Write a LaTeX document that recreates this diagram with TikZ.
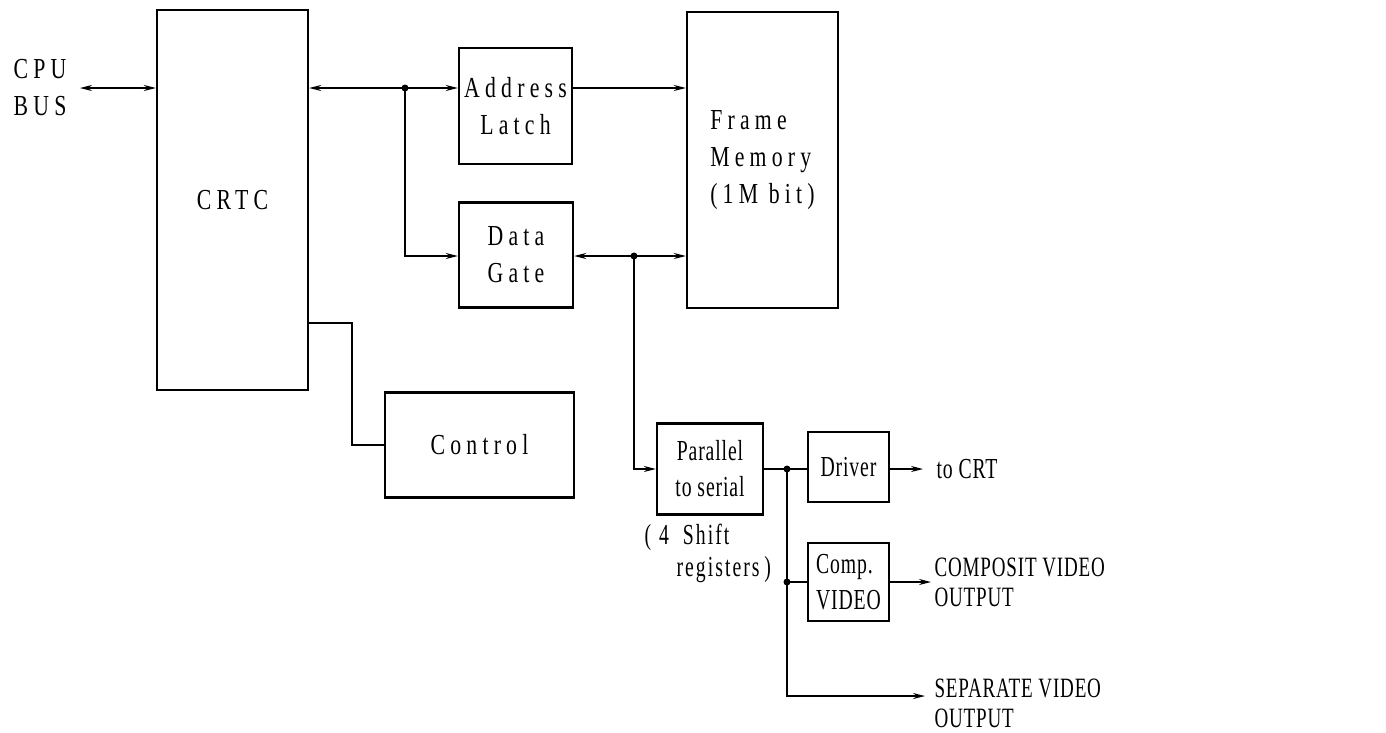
\documentclass[tikz,border=0pt]{standalone}
\usepackage{fontspec}
\setmainfont{Liberation Serif}[FakeStretch=0.68, LetterSpace=3]
\newfontfamily\widefont{Liberation Serif}[FakeStretch=0.75, LetterSpace=18]
\usetikzlibrary{arrows.meta}

\begin{document}
\begin{tikzpicture}[
  x=1pt, y=-1pt,
  font=\fontsize{29}{36}\selectfont,
  wtxt/.style={font=\widefont\fontsize{29}{37}\selectfont},
  blk/.style={draw, line width=2.4pt, inner sep=0pt, align=center},
  wire/.style={line width=1.4pt},
  arr/.style={wire, -{Stealth[length=12pt, width=6pt]}},
  biarr/.style={wire, {Stealth[length=12pt, width=6pt]}-{Stealth[length=12pt, width=6pt]}},
  dot/.style={circle, fill, inner sep=0pt, minimum size=7pt},
]
\useasboundingbox (0,0) rectangle (1386,732);

% ---------- blocks ----------
\node[blk, wtxt, minimum width=151pt, minimum height=380pt] (crtc) at (232.5,200) {CRTC};
\node[blk, wtxt, minimum width=113pt, minimum height=116pt] (addr) at (515.5,106) {Address\\Latch};
\node[blk, wtxt, minimum width=114pt, minimum height=105pt] (gate) at (516,255) {Data\\Gate};
\node[blk, wtxt, minimum width=151pt, minimum height=296pt, align=left] (mem) at (762.5,160)
  {Frame\\Memory\\(1M bit)};
\node[blk, wtxt, minimum width=189pt, minimum height=105pt] (ctrl) at (479.5,445) {Control};
\node[blk, minimum width=106pt, minimum height=91pt] (p2s) at (710,469) {Parallel\\to serial};
\node[blk, minimum width=81pt, minimum height=70pt] (drv) at (848.5,467) {Driver};
\node[blk, minimum width=81pt, minimum height=78pt, align=left] (comp) at (848.5,582) {Comp.\\VIDEO};

% ---------- labels ----------
\node[wtxt, align=left] (cpubus) at (40,88) {CPU\\BUS};
\node[align=left, anchor=north west, font=\fontsize{29}{32}\selectfont\addfontfeature{LetterSpace=7}] (shreg) at (641,521)
  {(\;4 \ Shift\\\hspace*{32pt}registers\,)};
\node[anchor=west] (crt) at (933,469) {to CRT};
\node[anchor=west, align=left, font=\fontsize{28}{30}\selectfont] (compout) at (931,582)
  {COMPOSIT VIDEO\\OUTPUT};
\node[anchor=west, align=left, font=\fontsize{28}{30}\selectfont] (sepout) at (931,703)
  {SEPARATE VIDEO\\OUTPUT};

% ---------- junctions ----------
\node[dot] (j1) at (405,88) {};
\node[dot] (j2) at (634,256) {};
\node[dot] (j3) at (787,469) {};
\node[dot] (j4) at (787,582) {};
\coordinate (c1) at (352,323);
\coordinate (cpuend) at (80,88);
\coordinate (crtend) at (923,469);
\coordinate (sepend) at (925,696);

% ---------- address / data bus ----------
\draw[biarr] (cpuend) -- (crtc.west |- j1);
\draw[arr] (j1.center) -- (crtc.east |- j1);
\draw[arr] (j1.center) -- (addr.west |- j1);
\draw[arr] (j1.center) |- (gate.west |- j2);
\draw[arr] (addr.east |- j1) -- (mem.west |- j1);
\draw[arr] (j2.center) -- (gate.east |- j2);
\draw[arr] (j2.center) -- (mem.west |- j2);
\draw[arr] (j2.center) |- (p2s.west);

% control line
\draw[wire] (crtc.east |- c1) -| (c1 |- ctrl.west) -- (ctrl.west);

% ---------- video outputs ----------
\draw[wire] (p2s.east |- j3) -- (drv.west |- j3);
\draw[wire] (j3.center) -- (j4.center) -- (comp.west |- j4);
\draw[arr] (j4.center) |- (sepend);
\draw[arr] (drv.east |- j3) -- (crtend);
\draw[arr] (comp.east |- j4) -- (compout.west |- j4);

\end{tikzpicture}
\end{document}
